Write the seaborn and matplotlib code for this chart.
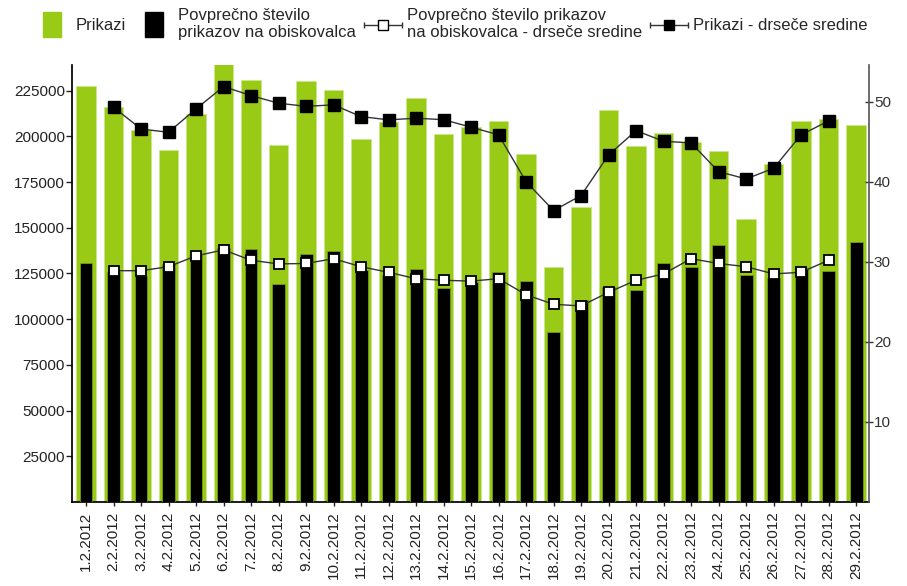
import numpy as np
import pandas as pd
import matplotlib
matplotlib.use("Agg")
import matplotlib.pyplot as plt
import seaborn as sns
from matplotlib.legend_handler import HandlerBase, HandlerPatch
from matplotlib.lines import Line2D
from matplotlib.patches import Patch, Rectangle

# ==========================================
# DATA
# ==========================================
dates = [f"{d}.2.2012" for d in range(1, 30)]

# Prikazi (left axis)
prikazi = [227700, 216100, 203700, 192700, 212100, 239500, 231000, 195300, 230100, 225200,
           198600, 207800, 221000, 201100, 205200, 208600, 190400, 128400, 161400, 214400,
           194600, 202000, 197100, 192000, 154800, 184700, 208600, 209500, 206100]

# Povprecno stevilo prikazov na obiskovalca (right axis)
povprecno = [29.8, 28.7, 28.25, 29.7, 30.8, 31.7, 31.6, 27.25, 31.0, 31.3,
             29.0, 28.4, 29.1, 26.7, 27.5, 28.7, 27.6, 21.2, 25.2, 26.9,
             26.5, 29.8, 29.3, 32.1, 28.4, 28.0, 29.2, 28.9, 32.5]

# moving averages, defined from day 2 to day 28
prikazi_ma = [215900, 204000, 202200, 215000, 227200, 222300, 218100, 216400, 217200,
              210800, 209000, 209900, 209100, 205000, 200800, 175200, 159400, 167600,
              189800, 203100, 197300, 196400, 180700, 176700, 182500, 200800, 208400]
povprecno_ma = [28.9, 28.9, 29.4, 30.75, 31.5, 30.2, 29.75, 29.8, 30.4, 29.4,
                28.7, 27.9, 27.7, 27.6, 27.9, 25.9, 24.7, 24.5, 26.2, 27.7,
                28.5, 30.4, 29.8, 29.4, 28.5, 28.7, 30.2]

left_ticks = list(range(25000, 225001, 25000))
right_ticks = [10, 20, 30, 40, 50]

GREEN = "#99CA15"
LINE_COL = "#333333"
FONT = ["Liberation Sans", "DejaVu Sans"]

# ==========================================
# LEGEND HANDLERS
# ==========================================
class HandlerCapLine(HandlerBase):
    """Line with small end caps and a square marker in the middle."""
    def create_artists(self, legend, orig, xdescent, ydescent, width, height, fontsize, trans):
        y = height / 2 - ydescent
        x0, x1 = -xdescent, -xdescent + width
        line = Line2D([x0, x1], [y, y], color=LINE_COL, lw=1.0)
        caps = Line2D([x0, x1], [y, y], ls="none", marker="|", markersize=5,
                      markeredgewidth=1.0, color=LINE_COL)
        mark = Line2D([(x0 + x1) / 2], [y], ls="none", marker="s", markersize=6.5,
                      markerfacecolor=orig.get_markerfacecolor(), markeredgecolor="black",
                      markeredgewidth=1.0)
        for a in (line, caps, mark):
            a.set_transform(trans)
        return [line, caps, mark]


def tall_patch(legend, orig_handle, xdescent, ydescent, width, height, fontsize):
    w, h = 13.0, 18.0
    return Rectangle((-xdescent + (width - w) / 2, -ydescent + (height - h) / 2), w, h)


# ==========================================
# PLOT
# ==========================================
sns.set_theme(style="white")
plt.rcParams["font.family"] = FONT

df = pd.DataFrame({"datum": dates, "prikazi": prikazi, "povprecno": povprecno})
ma_x = np.arange(1, len(dates) - 1)

fig = plt.figure(figsize=(9.07, 5.86), dpi=100)
ax1 = fig.add_axes([72 / 907, 1 - 502 / 586, 797 / 907, 437 / 586])
ax2 = ax1.twinx()

sns.barplot(data=df, x="datum", y="prikazi", color=GREEN, width=0.70, saturation=1,
            edgecolor="#c8e88a", linewidth=0.6, ax=ax1)
ax1.plot(ma_x, prikazi_ma, color=LINE_COL, lw=1.0, marker="s", markersize=8,
         markerfacecolor="black", markeredgecolor="black", zorder=5)

sns.barplot(data=df, x="datum", y="povprecno", color="black", width=0.47, saturation=1,
            edgecolor="#7fa520", linewidth=0.5, ax=ax2)
ax2.plot(ma_x, povprecno_ma, color=LINE_COL, lw=1.0, marker="s", markersize=7.5,
         markerfacecolor="white", markeredgecolor="black", markeredgewidth=1.3, zorder=5)

ax1.set_xlim(-0.51, 28.47)
ax1.set_ylim(0, 239000)
ax2.set_ylim(0, 54.6)

ax1.set_yticks(left_ticks)
ax1.set_yticklabels([str(v) for v in left_ticks])
ax2.set_yticks(right_ticks)
ax2.set_yticklabels([str(v) for v in right_ticks])
ax1.set_xticks(range(len(dates)))
ax1.set_xticklabels(dates, rotation=90)

for ax in (ax1, ax2):
    ax.set_xlabel("")
    ax.set_ylabel("")
    ax.grid(False)
    ax.spines["top"].set_visible(False)

ax1.spines["left"].set_color("black")
ax1.spines["bottom"].set_color("black")
ax1.spines["right"].set_visible(False)
ax2.spines["left"].set_visible(False)
ax2.spines["bottom"].set_visible(False)
ax2.spines["right"].set_color("#555555")
ax2.spines["right"].set_linewidth(1.2)

ax1.tick_params(axis="y", direction="out", length=4, width=1, pad=1, labelsize=11,
                left=True, colors="#222222")
ax1.tick_params(axis="x", direction="out", length=3, width=1, pad=4, labelsize=11,
                bottom=True, colors="#222222")
ax2.tick_params(axis="y", direction="inout", length=6, width=1, pad=0.5, labelsize=11,
                right=True, colors="#333333")

handles = [Patch(color=GREEN), Patch(color="black"),
           Line2D([], [], marker="s", markerfacecolor="white"),
           Line2D([], [], marker="s", markerfacecolor="black")]
labels = ["Prikazi", "Povprečno število\nprikazov na obiskovalca",
          "Povprečno število prikazov\nna obiskovalca - drseče sredine",
          "Prikazi - drseče sredine"]
fig.legend(handles, labels, loc="upper left", bbox_to_anchor=(33 / 907, 1 - 8 / 586),
           ncol=4, frameon=False, fontsize=12, borderpad=0, borderaxespad=0,
           handlelength=2.28, handleheight=1.5, handletextpad=0.3, columnspacing=0.5,
           handler_map={Patch: HandlerPatch(patch_func=tall_patch),
                        Line2D: HandlerCapLine()})

fig.savefig("out.png", dpi=100)
